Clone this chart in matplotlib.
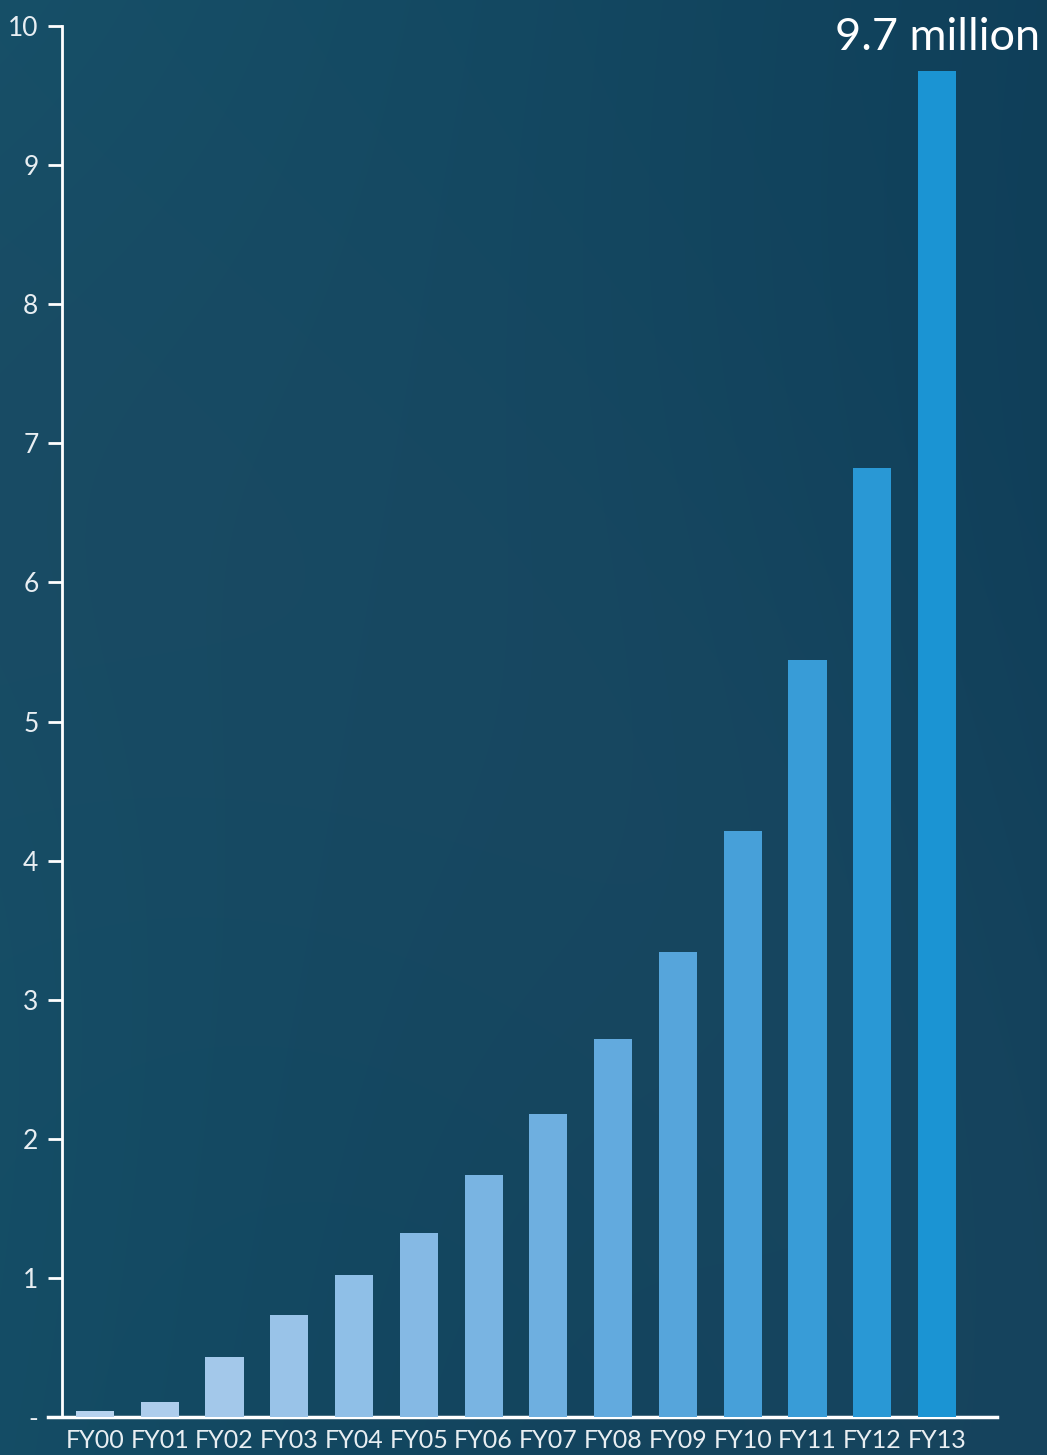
import numpy as np
import matplotlib
matplotlib.use("Agg")
from matplotlib import pyplot as plt
from matplotlib.colors import LinearSegmentedColormap, to_rgb

# data (millions)
years = ["FY00", "FY01", "FY02", "FY03", "FY04", "FY05", "FY06",
         "FY07", "FY08", "FY09", "FY10", "FY11", "FY12", "FY13"]
values = [0.04, 0.11, 0.43, 0.73, 1.02, 1.32, 1.74,
          2.18, 2.72, 3.34, 4.21, 5.44, 6.82, 9.68]
y_ticks = list(range(0, 11))
y_labels = ["-"] + [str(v) for v in range(1, 11)]

plt.rcParams["font.family"] = ["Lato", "DejaVu Sans"]

W, H = 1047, 1455
fig = plt.figure(figsize=(W / 100, H / 100), dpi=100)

# background gradient
bg = fig.add_axes([0, 0, 1, 1])
yy, xx = np.mgrid[0:H, 0:W]
c_left = np.array(to_rgb("#165169"))
c_right = np.array(to_rgb("#0e3b56"))
c_mid = np.array(to_rgb("#1b4962"))
t = np.clip(xx / W * 0.8 + (yy / H) * 0.2, 0, 1)[..., None]
img = c_left * (1 - t) + c_right * t
d = np.sqrt((xx + 250) ** 2 + (yy - H - 250) ** 2)
glow = np.exp(-((d - 1250) / 420) ** 2)[..., None] * 0.6
img = img * (1 - glow) + c_mid * glow
bg.imshow(img, aspect="auto", extent=[0, 1, 0, 1])
bg.set_axis_off()

ax = fig.add_axes([48 / W, (H - 1417) / H, (997 - 48) / W, (1417 - 26) / H])
ax.patch.set_alpha(0)

cmap = LinearSegmentedColormap.from_list("bars", ["#b6d2ee", "#8cbde6", "#5ba6dc", "#1b94d3"])
colors = [cmap(i / (len(years) - 1)) for i in range(len(years))]
x = np.arange(len(years))
ax.bar(x, values, width=0.59, color=colors, zorder=3)

step = 64.77
ax.set_xlim((48 - 95) / step, (997 - 95) / step)
ax.set_ylim(0, 10)

for s in ["top", "right"]:
    ax.spines[s].set_visible(False)
ax.spines["left"].set_position(("data", (62 - 95) / step))
ax.spines["left"].set_color("white")
ax.spines["left"].set_linewidth(2)
ax.spines["bottom"].set_color("white")
ax.spines["bottom"].set_linewidth(2.5)

ax.set_yticks(y_ticks)
ax.set_yticklabels(y_labels)
ax.set_xticks(x)
ax.set_xticklabels(years)
ax.tick_params(axis="y", colors="white", length=10, width=2, direction="out",
               labelsize=19, pad=7, labelcolor="#e8eef2")
ax.tick_params(axis="x", length=0, labelsize=18, pad=9, labelcolor="#e8eef2")

fig.text(1040 / W, 1 - 37 / H, "9.7 million", color="white", fontsize=32.5,
         ha="right", va="center")

fig.savefig("out.png", dpi=100)
